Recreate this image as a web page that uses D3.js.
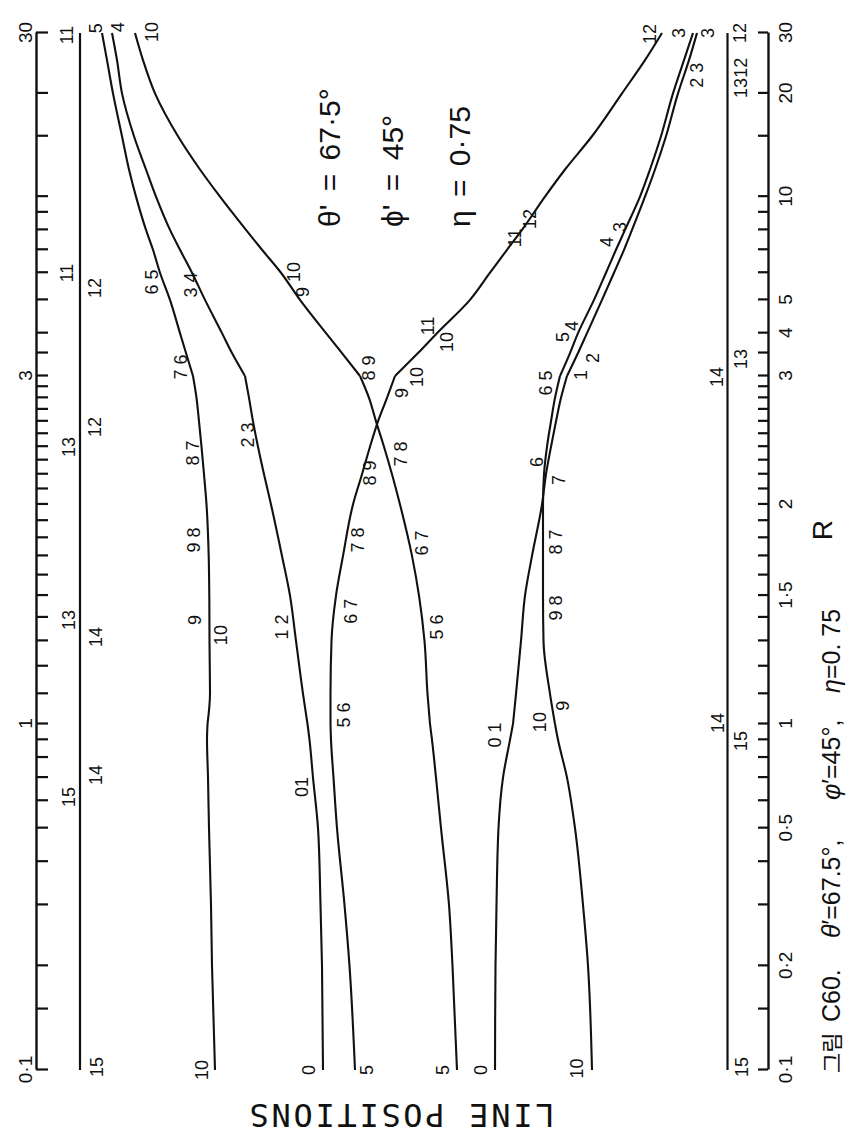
<!DOCTYPE html>
<html lang="ko">
<head>
<meta charset="utf-8">
<script src="https://cdn.jsdelivr.net/npm/d3@7"></script>
<style>
  body { margin: 0; background: #fff; }
  svg text { fill: #111; }
</style>
</head>
<body>
<script>
var W = 867, H = 1138;

var rGrid = [0.1, 0.2, 0.3, 0.5, 0.7, 0.9, 1, 1.1, 1.3, 1.5, 1.7, 2, 2.2, 2.4, 2.6, 2.8,
             3, 3.5, 4, 5, 6, 7, 8, 10, 12, 15, 20, 25, 30];

// line positions (arbitrary units) for each curve, same order as rGrid
var curve10to5 = [21.5, 21.2, 21.1, 20.9, 20.8, 20.7, 20.75, 21.0, 20.95, 20.93, 20.87,
                  20.65, 20.4, 20.15, 19.9, 19.65, 19.3, 18.6, 18.0, 17.0, 16.0, 15.3, 14.6,
                  13.6, 12.9, 12.2, 11.3, 10.7, 10.2];
var curve0to4 = [32.3, 32.2, 32.05, 31.8, 31.3, 30.95, 30.75, 30.3, 29.6, 29.0, 28.2,
                 27.1, 26.4, 25.8, 25.3, 24.9, 24.5, 23.2, 22.2, 20.5, 19.2, 18.0, 17.0,
                 15.6, 14.6, 13.4, 12.2, 11.7, 11.2];
var curve5to12 = [35.5, 34.95, 34.45, 33.7, 33.35, 33.1, 33.05, 33.05, 33.15, 33.6, 34.3,
                  35.3, 36.2, 37.0, 37.8, 38.7, 39.5, 41.8, 43.7, 47.0, 49.0, 50.7, 52.2,
                  54.5, 56.5, 59.2, 62.2, 64.5, 66.2];
var curve5to10 = [45.7, 45.25, 44.9, 44.1, 43.6, 43.2, 43.0, 42.75, 42.45, 41.9, 41.2,
                  40.0, 39.2, 38.4, 37.6, 36.9, 36.0, 34.2, 32.6, 30.0, 28.1, 26.2, 24.6,
                  22.0, 20.0, 17.8, 15.5, 14.3, 13.5];
var curve0to3 = [49.5, 49.55, 49.65, 49.85, 50.3, 51.0, 51.3, 51.6, 52.1, 52.5, 53.2,
                 54.2, 54.6, 55.1, 55.6, 56.1, 56.7, 57.8, 58.7, 60.2, 61.4, 62.4, 63.2,
                 64.5, 65.5, 66.6, 67.8, 68.9, 69.7];
var curve10to3 = [59.2, 58.8, 58.3, 57.5, 56.7, 55.8, 55.5, 55.0, 54.35, 54.3, 54.3,
                  54.3, 54.4, 54.7, 55.1, 55.5, 56.0, 57.0, 57.8, 59.4, 60.6, 61.6, 62.5,
                  64.0, 65.0, 66.1, 67.3, 68.4, 69.3];
var curves = [curve10to5, curve0to4, curve5to12, curve5to10, curve0to3, curve10to3];

// the two constant lines
var levelPos = [8.0, 72.75];
var levelR = [0.1, 30];

// curve / line labels: text, R, position
var labelText = ["11","11","12","12","13","13","14","14","15","15",
                 "12","1312","14","13","14","15","15",
                 "10","9","10","9 8","8 7","7 6","6 5","5",
                 "4","3 4","2 3","1 2","01","0",
                 "5","5 6","6 7","7 8","8 9","9","10","11","10","11","12","12",
                 "5","5 6","6 7","7 8","8 9","9","10","10",
                 "0","0 1","7","1","2","2 3","3",
                 "10","9","10","9 8","8 7","6","6 5","5","4","4","3","3"];
var labelR = [29.6, 5.99, 5.42, 2.554, 2.398, 1.389, 1.316, 0.712, 0.615, 0.102,
              30, 22.2, 2.99, 3.363, 1.003, 0.893, 0.102,
              0.1, 1.389, 1.324, 1.788, 2.352, 3.187, 5.64, 31.0,
              31.2, 5.53, 2.49, 1.358, 0.658, 0.1,
              0.1, 1.029, 1.428, 1.788, 2.209, 2.843, 2.99, 4.20, 3.77, 7.58, 8.61, 29.8,
              0.1, 1.358, 1.771, 2.346, 3.165, 5.27, 6.03, 30.2,
              0.1, 0.929, 2.160, 3.02, 3.386, 22.6, 30,
              0.101, 1.059, 1.006, 1.442, 1.776, 2.287, 2.934, 3.90, 4.20, 7.38, 8.16, 30];
var labelPos = [6.7, 6.7, 9.5, 9.5, 6.9, 6.9, 9.6, 9.6, 6.9, 9.7,
                74.0, 74.1, 71.7, 74.1, 71.8, 74.1, 74.2,
                20.2, 19.5, 22.1, 19.4, 19.3, 18.1, 15.2, 9.6,
                11.8, 19.1, 24.8, 28.2, 30.2, 30.9,
                36.7, 34.4, 35.1, 35.8, 37.0, 40.2, 41.7, 42.8, 44.7, 51.5, 53.0, 65.0,
                44.3, 43.7, 42.2, 40.1, 36.9, 30.3, 29.4, 15.2,
                48.1, 49.5, 55.9, 58.1, 59.3, 69.7, 70.8,
                57.7, 56.3, 54.0, 55.6, 55.6, 53.7, 54.6, 56.3, 57.2, 60.7, 62.0, 67.9];

// R axis ticks
var tickR = [0.1, 0.15, 0.2, 0.3, 0.4, 0.5, 0.6, 0.7, 0.8, 0.9, 1,
             1.1, 1.2, 1.3, 1.4, 1.5, 1.6, 1.7, 1.8, 1.9, 2,
             2.1, 2.2, 2.3, 2.4, 2.5, 2.6, 2.7, 2.8, 2.9, 3,
             3.5, 4, 5, 6, 7, 8, 9, 10, 15, 20, 30];
var topLabelR = [0.1, 1, 3, 30];
var topLabelText = ["0·1", "1", "3", "30"];
var bottomLabelR = [0.1, 0.2, 0.5, 1, 1.5, 2, 3, 4, 5, 10, 20, 30];
var bottomLabelText = ["0·1", "0·2", "0·5", "1", "1·5", "2", "3", "4", "5", "10", "20", "30"];

var params = ["θ' = 67·5°", "ϕ' = 45°", "η = 0·75"];

var svg = d3.select("body").append("svg")
  .attr("width", W).attr("height", H);
svg.append("rect").attr("width", W).attr("height", H).attr("fill", "#fff");

// the original figure is drawn landscape, then turned a quarter left
var g = svg.append("g").attr("transform", "translate(0," + H + ") rotate(-90)");

// R scale: log, but the 1..3 stretch is drawn wider (as in the paper)
var rScale = d3.scaleLinear()
  .domain([-1, 0, Math.log10(3), Math.log10(30)])
  .range([68, 414, 762, 1105]);
var xR = function(r) { return rScale(Math.log10(r)); };
var yP = d3.scaleLinear().domain([3.6, 76.8]).range([36, 768]);

function fmt(rs, texts) {
  return function(d) {
    for (var i = 0; i < rs.length; i++) {
      if (Math.abs(Math.log10(rs[i]) - d) < 1e-6) return texts[i];
    }
    return "";
  };
}

var topAxis = d3.axisTop(rScale)
  .tickValues(tickR.map(Math.log10))
  .tickSizeInner(-12).tickSizeOuter(0).tickPadding(4)
  .tickFormat(fmt(topLabelR, topLabelText));
var bottomAxis = d3.axisBottom(rScale)
  .tickValues(tickR.map(Math.log10))
  .tickSizeInner(-10).tickSizeOuter(0).tickPadding(11)
  .tickFormat(fmt(bottomLabelR, bottomLabelText));

var gTop = g.append("g").attr("transform", "translate(0," + yP(3.6) + ")").call(topAxis);
var gBot = g.append("g").attr("transform", "translate(0," + yP(76.8) + ")").call(bottomAxis);
[gTop, gBot].forEach(function(a) {
  a.select(".domain").attr("stroke", "#111").attr("stroke-width", 2.4);
  a.selectAll(".tick line").attr("stroke", "#111").attr("stroke-width", 2.2);
  a.selectAll(".tick text")
    .attr("font-family", "'Liberation Sans', sans-serif")
    .attr("font-size", 19).attr("fill", "#111");
});

// constant lines
var line = d3.line().x(function(d) { return xR(d[0]); }).y(function(d) { return yP(d[1]); });
levelPos.forEach(function(p) {
  g.append("path")
    .datum(levelR.map(function(r) { return [r, p]; }))
    .attr("d", line)
    .attr("fill", "none").attr("stroke", "#111").attr("stroke-width", 2.2);
});

// curves: smooth within each scale piece, kinked at R = 1 and R = 3
var smooth = d3.line().curve(d3.curveMonotoneX)
  .x(function(d) { return xR(d[0]); }).y(function(d) { return yP(d[1]); });
var breaks = [[0.1, 1], [1, 3], [3, 30]];
curves.forEach(function(c) {
  var pts = rGrid.map(function(r, i) { return [r, c[i]]; });
  breaks.forEach(function(b) {
    var seg = pts.filter(function(d) { return d[0] >= b[0] && d[0] <= b[1]; });
    g.append("path").datum(seg).attr("d", smooth)
      .attr("fill", "none").attr("stroke", "#111").attr("stroke-width", 2.1)
      .attr("stroke-linejoin", "round");
  });
});

// curve labels
g.selectAll(".lbl").data(labelText).enter().append("text")
  .attr("class", "lbl")
  .attr("x", function(d, i) { return xR(labelR[i]); })
  .attr("y", function(d, i) { return yP(labelPos[i]); })
  .attr("text-anchor", "middle")
  .attr("dominant-baseline", "central")
  .attr("font-family", "'Liberation Sans', sans-serif")
  .attr("font-size", 18)
  .style("white-space", "pre")
  .text(function(d) { return d; });

// parameter block
var paramY = [340, 403, 470];
params.forEach(function(t, i) {
  g.append("text")
    .attr("x", 911).attr("y", paramY[i])
    .attr("font-family", "'Liberation Sans', sans-serif")
    .attr("font-size", 30)
    .attr("word-spacing", 5)
    .style("white-space", "pre")
    .text(t);
});

// axis title R
g.append("text")
  .attr("x", 608).attr("y", 822)
  .attr("text-anchor", "middle").attr("dominant-baseline", "central")
  .attr("font-family", "'Liberation Sans', sans-serif")
  .attr("font-size", 28)
  .text("R");

// y title (upside down after the turn)
g.append("text")
  .attr("transform", "translate(23,402) rotate(-90)")
  .attr("text-anchor", "middle").attr("dominant-baseline", "central")
  .attr("font-family", "'DejaVu Sans Mono', monospace")
  .attr("font-size", 32)
  .attr("textLength", 305).attr("lengthAdjust", "spacing")
  .text("LINE POSITIONS");

// caption
var capParts = [
  {x: 65, t: "그림", f: "'Noto Sans CJK KR', sans-serif", s: "normal", z: 22},
  {x: 116, t: "C60.", f: "'Liberation Sans', sans-serif", s: "normal", z: 25},
  {x: 200, t: "θ′=67.5°,", f: "'Liberation Sans', sans-serif", s: "italic", z: 25},
  {x: 338, t: "φ′=45°,", f: "'Liberation Sans', sans-serif", s: "italic", z: 25},
  {x: 445, t: "η=0. 75", f: "'Liberation Sans', sans-serif", s: "italic", z: 25}
];
capParts.forEach(function(p) {
  var t = g.append("text")
    .attr("x", p.x).attr("y", 840)
    .attr("font-family", p.f)
    .attr("font-size", p.z)
    .style("white-space", "pre");
  if (p.s === "italic") {
    t.append("tspan").attr("font-style", "italic").text(p.t.charAt(0));
    t.append("tspan").text(p.t.slice(1));
  } else {
    t.text(p.t);
  }
});
</script>
</body>
</html>
